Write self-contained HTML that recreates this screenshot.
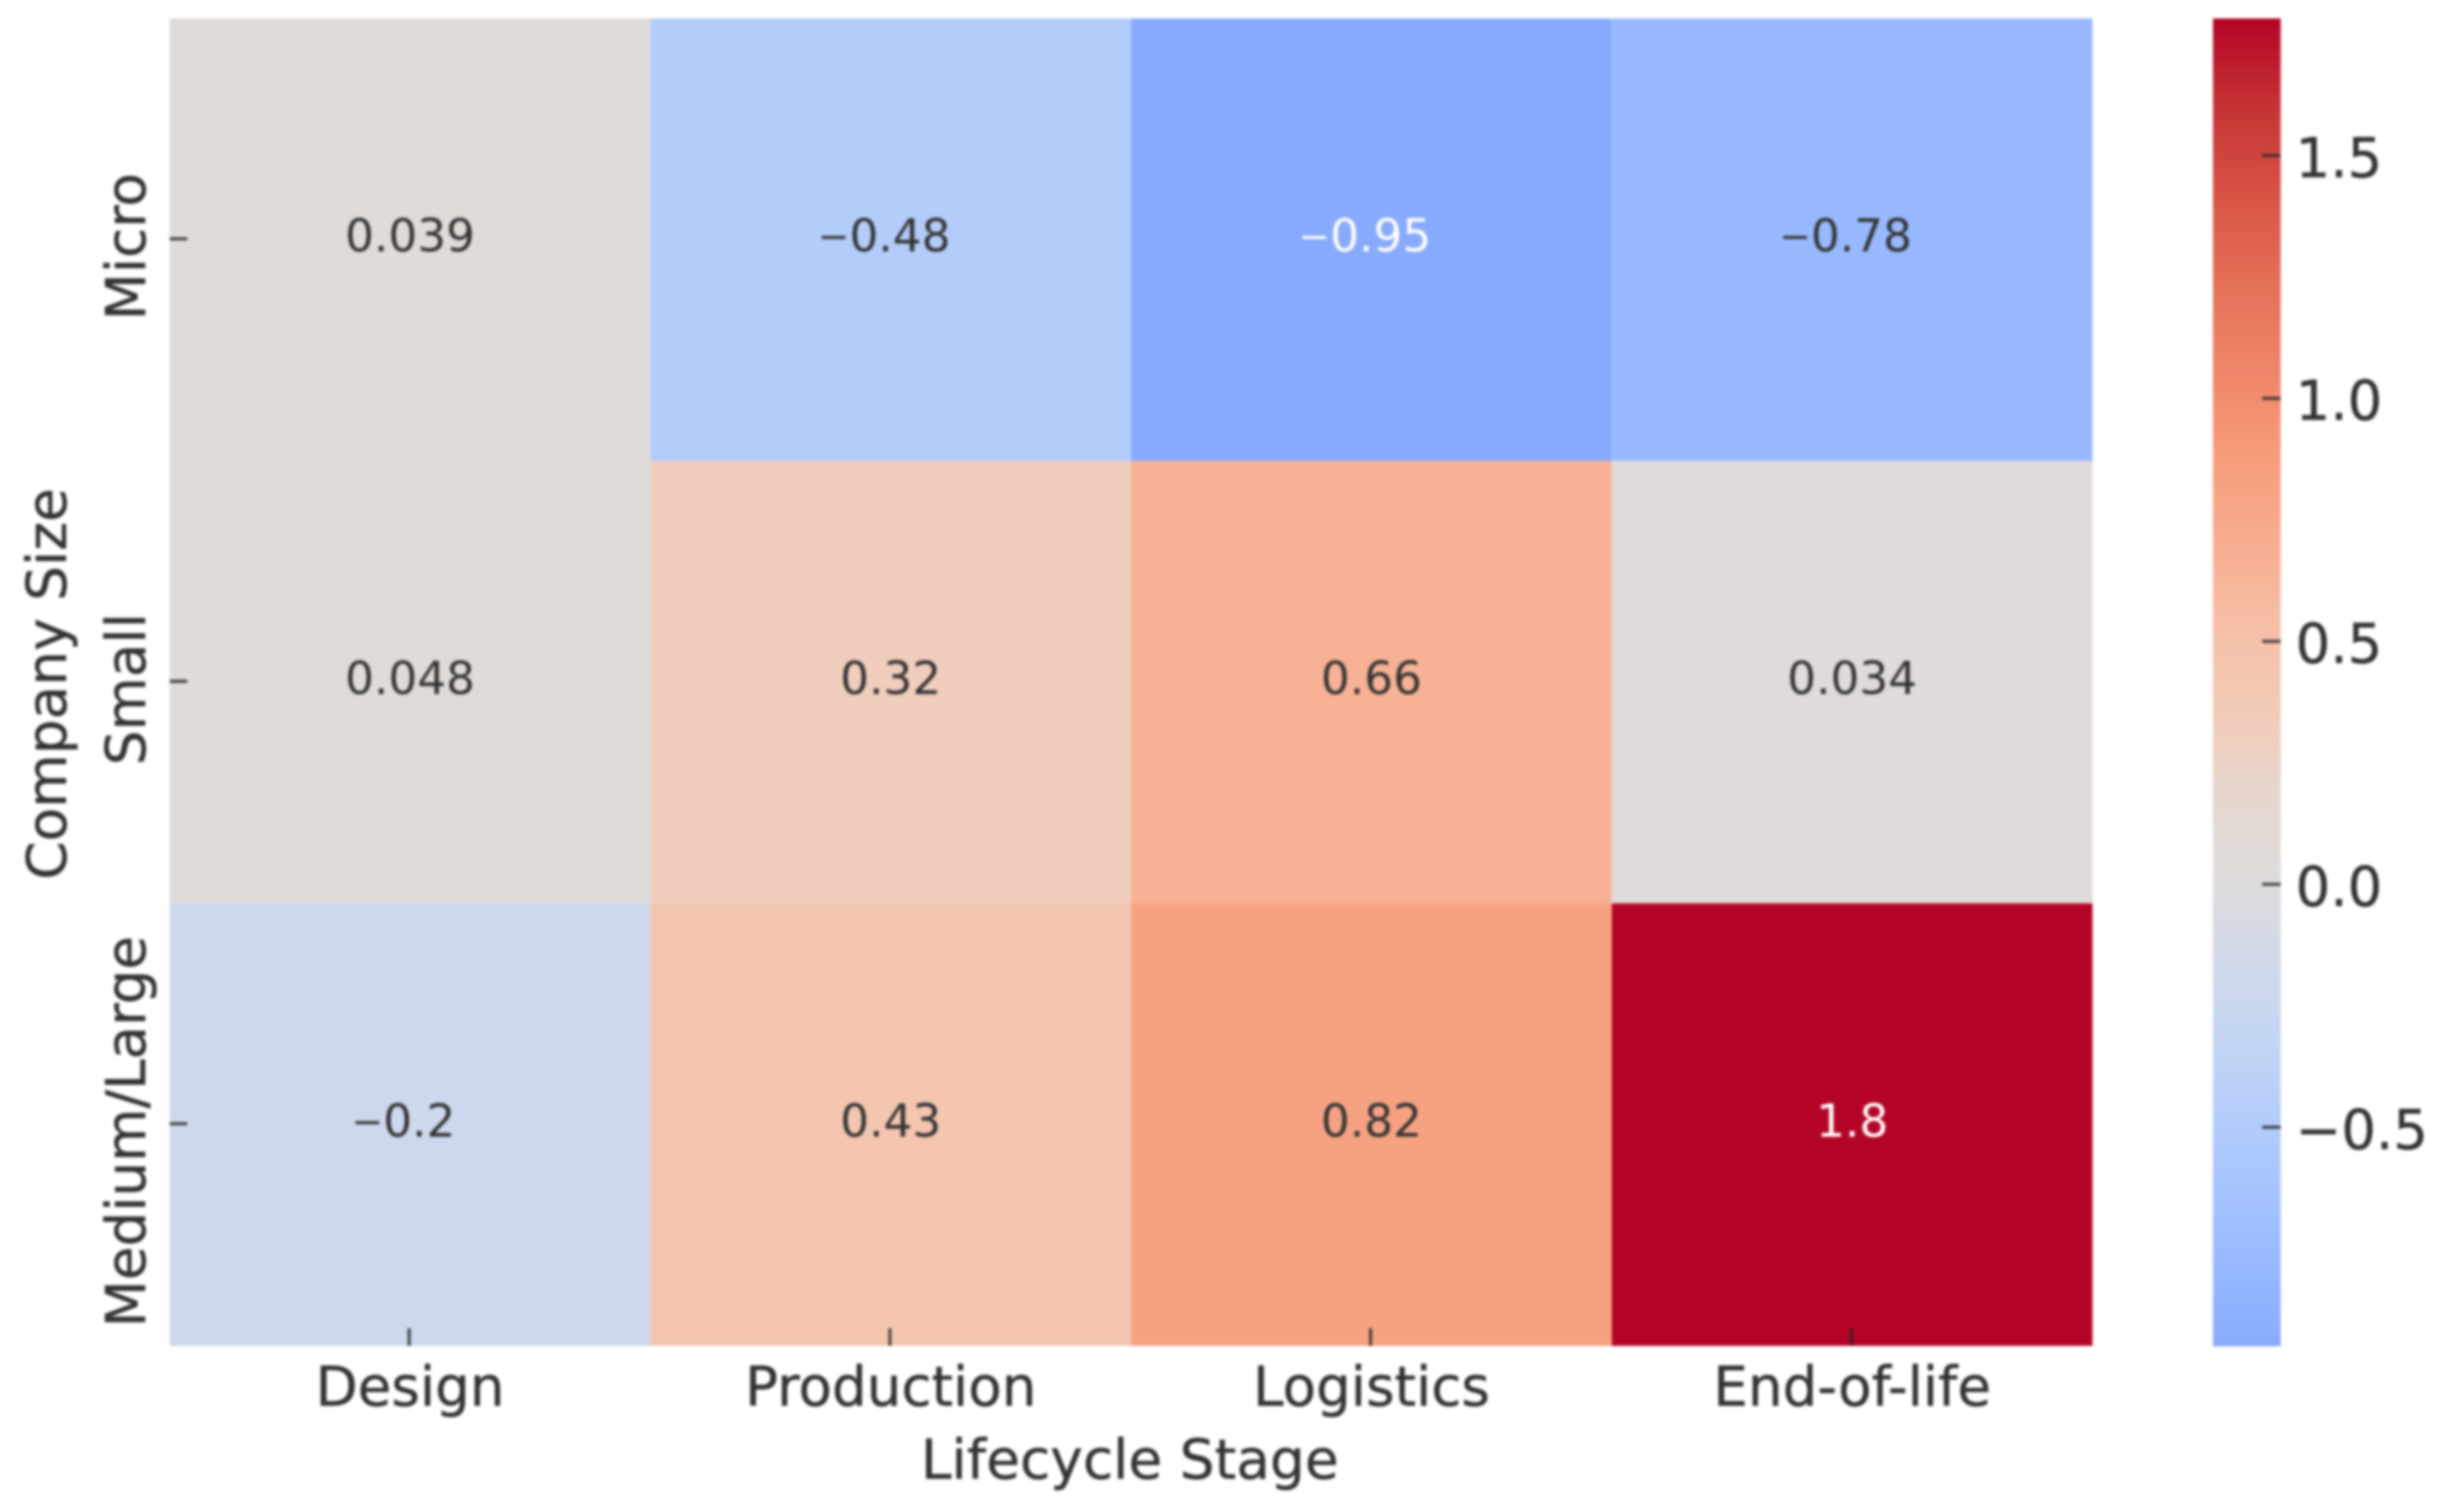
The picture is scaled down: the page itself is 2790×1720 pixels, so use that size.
<!DOCTYPE html>
<html lang="en">
<head>
<meta charset="utf-8">
<title>Lifecycle Stage by Company Size Heatmap</title>
<style>
  html, body { margin: 0; padding: 0; background: #ffffff; }
  body { width: 2790px; height: 1720px; overflow: hidden; }
  #chart { display: block; filter: blur(1.5px); }
  text { font-family: "DejaVu Sans", "Liberation Sans", sans-serif; fill: #333333; }
  .axis-text { stroke: #333333; stroke-width: 0.5px; }
</style>
</head>
<body>
<svg id="chart" xmlns="http://www.w3.org/2000/svg" width="2790" height="1720" viewBox="0 0 2790 1720">
  <rect x="0" y="0" width="2790" height="1720" fill="#ffffff"/>
  <g id="cells"></g>
  <g id="colorbar"></g>
  <g id="xaxis"></g>
  <g id="yaxis"></g>
  <g id="annotations"></g>
  <text class="axis-text" x="1285" y="1682" font-size="62.6" text-anchor="middle">Lifecycle Stage</text>
  <text class="axis-text" transform="translate(75 778) rotate(-90)" font-size="62.5" text-anchor="middle">Company Size</text>
</svg>
<script>
const stages = ['Design', 'Production', 'Logistics', 'End-of-life'];
const sizes = ['Micro', 'Small', 'Medium/Large'];
const microValues = [0.039, -0.48, -0.95, -0.78];
const smallValues = [0.048, 0.32, 0.66, 0.034];
const mediumLargeValues = [-0.2, 0.43, 0.82, 1.8];
const colorbarTicks = [1.5, 1.0, 0.5, 0.0, -0.5];
const colorbarDomain = [-0.95, 1.782];
const coolwarmStops = ['#3b4cc0', '#4961d2', '#5977e3', '#6c8ff1', '#7b9ff9', '#8db0fe', '#9ebeff', '#aec9fc', '#c0d4f5', '#cfd9ec', '#dddcdc', '#e6d7cf', '#f2cbb7', '#f6bfa6', '#f7ac8e', '#f69b7a', '#ee8468', '#e46e56', '#d65244', '#c53334', '#b40426'];

const rows = [microValues, smallValues, mediumLargeValues];
const NS = 'http://www.w3.org/2000/svg';
const plot = { left: 193, right: 2380, top: 21, bottom: 1531 };
const bar = { left: 2517, right: 2594, top: 21, bottom: 1531 };

function xBand(i) { return plot.left + i * (plot.right - plot.left) / stages.length; }
function yBand(i) { return plot.top + i * (plot.bottom - plot.top) / sizes.length; }
function xCenter(i) { return (xBand(i) + xBand(i + 1)) / 2; }
function yCenter(i) { return (yBand(i) + yBand(i + 1)) / 2; }
function barY(v) {
  const f = (v - colorbarDomain[0]) / (colorbarDomain[1] - colorbarDomain[0]);
  return bar.bottom - f * (bar.bottom - bar.top);
}
function hexToRgb(h) {
  return [parseInt(h.slice(1, 3), 16), parseInt(h.slice(3, 5), 16), parseInt(h.slice(5, 7), 16)];
}
function rgbOf(v) {
  const limit = colorbarDomain[1];
  const t = Math.min(1, Math.max(0, (v + limit) / (2 * limit)));
  const p = t * (coolwarmStops.length - 1);
  const i = Math.min(coolwarmStops.length - 2, Math.floor(p));
  const a = hexToRgb(coolwarmStops[i]);
  const b = hexToRgb(coolwarmStops[i + 1]);
  return a.map(function (c, k) { return Math.round(c + (b[k] - c) * (p - i)); });
}
function colorOf(v) { return 'rgb(' + rgbOf(v).join(',') + ')'; }
function luminance(v) {
  const c = rgbOf(v).map(function (x) {
    const s = x / 255;
    return s <= 0.03928 ? s / 12.92 : Math.pow((s + 0.055) / 1.055, 2.4);
  });
  return 0.2126 * c[0] + 0.7152 * c[1] + 0.0722 * c[2];
}
function fmt(v) { return String(parseFloat(Math.abs(v).toPrecision(2))); }
function create(tag, parentId, attrs) {
  const el = document.createElementNS(NS, tag);
  Object.keys(attrs).forEach(function (k) { el.setAttribute(k, attrs[k]); });
  document.getElementById(parentId).appendChild(el);
  return el;
}

rows.forEach(function (row, r) {
  row.forEach(function (v, c) {
    const cell = create('rect', 'cells', {
      x: xBand(c), y: yBand(r),
      width: xBand(c + 1) - xBand(c), height: yBand(r + 1) - yBand(r),
      fill: colorOf(v)
    });
    
    

    const label = create('text', 'annotations', {
      x: xCenter(c) + (v < 0 ? -7.5 : 0), y: yCenter(r) + 13.5,
      'font-size': 51.6, 'text-anchor': 'middle'
    });
    
    
    label.style.fill = luminance(v) < 0.43 ? '#ffffff' : '#333333';
    if (v < 0) {
      const minus = document.createElementNS(NS, 'tspan');
      minus.setAttribute('font-size', '43');
      minus.setAttribute('dy', '-2.5');
      minus.textContent = '\u2212';
      label.appendChild(minus);
      const digits = document.createElementNS(NS, 'tspan');
      digits.setAttribute('dy', '2.5');
      digits.textContent = fmt(v);
      label.appendChild(digits);
    } else {
      label.textContent = fmt(v);
    }
  });
});

stages.forEach(function (name, i) {
  const tick = create('line', 'xaxis', {
    x1: xCenter(i) - 1, x2: xCenter(i) - 1, y1: plot.bottom - 20, y2: plot.bottom,
    stroke: '#262626', 'stroke-width': 3.4, 'stroke-opacity': 0.85
  });
  
  

  const label = create('text', 'xaxis', {
    x: xCenter(i), y: 1599, 'font-size': 62.3, 'text-anchor': 'middle', 'class': 'axis-text'
  });
  
  
  label.textContent = name;
});

sizes.forEach(function (name, i) {
  const tick = create('line', 'yaxis', {
    x1: plot.left, x2: plot.left + 20, y1: yCenter(i) - 1, y2: yCenter(i) - 1,
    stroke: '#262626', 'stroke-width': 3.4, 'stroke-opacity': 0.85
  });
  
  

  const label = create('text', 'yaxis', {
    transform: 'translate(165 ' + (yCenter(i) + 8) + ') rotate(-90)',
    'font-size': 62.3, 'text-anchor': 'middle', 'class': 'axis-text'
  });
  
  
  label.textContent = name;
});

const barSteps = 256;
for (let s = 0; s < barSteps; s++) {
  const lo = colorbarDomain[0] + (colorbarDomain[1] - colorbarDomain[0]) * s / barSteps;
  const hi = colorbarDomain[0] + (colorbarDomain[1] - colorbarDomain[0]) * (s + 1) / barSteps;
  const band = create('rect', 'colorbar', {
    x: bar.left, y: barY(hi), width: bar.right - bar.left,
    height: barY(lo) - barY(hi) + 0.6, fill: colorOf((lo + hi) / 2)
  });
  
  
}

colorbarTicks.forEach(function (v) {
  const tick = create('line', 'colorbar', {
    x1: bar.right - 21, x2: bar.right, y1: barY(v), y2: barY(v),
    stroke: '#262626', 'stroke-width': 3.6, 'stroke-opacity': 0.8
  });
  
  

  const label = create('text', 'colorbar', {
    x: 2611, y: barY(v) + 24.5, 'font-size': 62, 'class': 'axis-text'
  });
  
  
  label.textContent = v.toFixed(1).replace('-', '\u2212');
});
</script>
</body>
</html>
